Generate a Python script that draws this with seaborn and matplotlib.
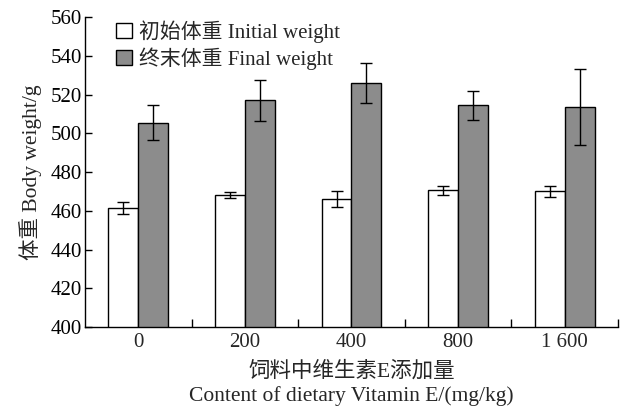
import numpy as np
import pandas as pd
import matplotlib
matplotlib.use("Agg")
import matplotlib.pyplot as plt
import seaborn as sns
from matplotlib.ticker import FixedLocator

categories = ["0", "200", "400", "800", "1 600"]
initial = [461.5, 468.0, 466.0, 470.5, 470.0]
initial_err = [3.0, 1.5, 4.0, 2.5, 3.0]
final = [505.5, 517.0, 526.0, 514.5, 513.5]
final_err = [9.0, 10.5, 10.5, 7.5, 19.5]
series = ["初始体重 Initial weight", "终末体重 Final weight"]

sns.set_theme(style="ticks")
fam = ["Liberation Serif", "Noto Sans CJK SC", "DejaVu Sans"]
plt.rcParams["font.family"] = fam

df = pd.DataFrame({
    "dose": categories * 2,
    "value": initial + final,
    "err": initial_err + final_err,
    "series": [series[0]] * 5 + [series[1]] * 5,
})

fig = plt.figure(figsize=(6.29, 4.12), dpi=100)
ax = fig.add_axes([0.135, 0.206, 0.8475, 0.7527])
sns.barplot(data=df, x="dose", y="value", hue="series", order=categories,
            hue_order=series, palette=["white", "#8c8c8c"], errorbar=None,
            width=0.56, edgecolor="black", linewidth=1.0, ax=ax, legend=True)

# error bars from bar patches
for i, s in enumerate(series):
    cont = ax.containers[i]
    sub = df[df["series"] == s]
    xs = [p.get_x() + p.get_width() / 2 for p in cont.patches]
    ax.errorbar(xs, sub["value"].values, yerr=sub["err"].values, fmt="none",
                ecolor="black", elinewidth=1.0, capsize=4.5, capthick=1.0, zorder=5)

ax.set_ylim(400, 560)
ax.set_xlim(-0.5, 4.5)
ax.set_yticks(np.arange(400, 561, 20))
ax.tick_params(axis="y", direction="in", length=5, width=1, labelsize=15, pad=2, colors="black")
ax.tick_params(axis="x", which="major", length=0, labelsize=15, pad=4)
ax.xaxis.set_minor_locator(FixedLocator([0.5, 1.5, 2.5, 3.5, 4.5]))
ax.tick_params(axis="x", which="minor", direction="in", length=6, width=1, colors="black")
for lab in ax.get_xticklabels() + ax.get_yticklabels():
    lab.set_family(fam)

sns.despine(ax=ax)
for sp in ["left", "bottom"]:
    ax.spines[sp].set_color("black")
    ax.spines[sp].set_linewidth(1.0)

ax.set_xlabel("饲料中维生素E添加量\nContent of dietary Vitamin E/(mg/kg)",
              fontsize=15.5, family=fam, linespacing=1.3, labelpad=7)
ax.set_ylabel("体重 Body weight/g", fontsize=15.5, family=fam, labelpad=6)

leg = ax.legend(loc="upper left", bbox_to_anchor=(0.035, 1.03), frameon=False,
                fontsize=15, handlelength=0.75, handleheight=0.75,
                handletextpad=0.35, labelspacing=0.22, borderaxespad=0.2)
for t in leg.get_texts():
    t.set_family(fam)

fig.savefig("out.png", dpi=100)
